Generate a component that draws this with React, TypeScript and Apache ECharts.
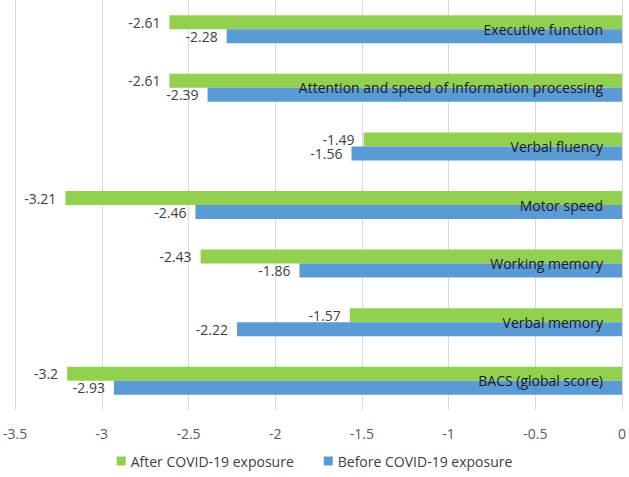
import React, { useEffect, useRef } from "react";
import * as echarts from "echarts";

const categories = [
  "Executive function",
  "Attention and speed of information processing",
  "Verbal fluency",
  "Motor speed",
  "Working memory",
  "Verbal memory",
  "BACS (global score)",
];
const afterValues = [-2.61, -2.61, -1.49, -3.21, -2.43, -1.57, -3.2];
const beforeValues = [-2.28, -2.39, -1.56, -2.46, -1.86, -2.22, -2.93];
const seriesNames = ["After COVID-19 exposure", "Before COVID-19 exposure"];

const FONT = "'Open Sans', 'Noto Sans', sans-serif";

export default function App() {
  const ref = useRef<HTMLDivElement>(null);
  useEffect(() => {
    if (!ref.current) return;
    const chart = echarts.init(ref.current, null, { renderer: "svg" });
    const labelCfg = {
      show: true,
      position: "left",
      distance: 9,
      color: "#404040",
      fontSize: 14,
      fontFamily: FONT,
    };
    chart.setOption({
      animation: false,
      textStyle: { fontFamily: FONT },
      grid: { left: 12, right: 4, top: 0, bottom: 67, containLabel: false },
      legend: {
        bottom: 4,
        left: "center",
        itemWidth: 9,
        itemHeight: 9,
        itemGap: 30,
        icon: "rect",
        textStyle: { color: "#404040", fontSize: 14, fontFamily: FONT },
        data: seriesNames,
      },
      xAxis: {
        type: "value",
        min: -3.5,
        max: 0,
        interval: 0.5,
        axisLine: { show: false },
        axisTick: { show: false },
        splitLine: { show: true, lineStyle: { color: "#d9d9d9", width: 1 } },
        axisLabel: { color: "#595959", fontSize: 14, margin: 16, fontFamily: FONT },
      },
      yAxis: {
        type: "category",
        data: categories,
        inverse: true,
        position: "right",
        z: 10,
        axisLine: { show: false },
        axisTick: { show: false },
        axisLabel: {
          inside: true,
          margin: 19,
          color: "#1a1a1a",
          fontSize: 14,
          fontFamily: FONT,
        },
      },
      series: [
        {
          name: seriesNames[0],
          type: "bar",
          data: afterValues,
          barWidth: 14,
          barGap: "0%",
          itemStyle: { color: "#92D050" },
          label: labelCfg,
          z: 2,
        },
        {
          name: seriesNames[1],
          type: "bar",
          data: beforeValues,
          barWidth: 14,
          barGap: "0%",
          itemStyle: { color: "#5B9BD5" },
          label: labelCfg,
          z: 2,
        },
      ],
    });
    return () => chart.dispose();
  }, []);
  return (
    <div
      ref={ref}
      style={{ position: "fixed", left: 0, top: 0, width: 629, height: 477, background: "#fff" }}
    />
  );
}
